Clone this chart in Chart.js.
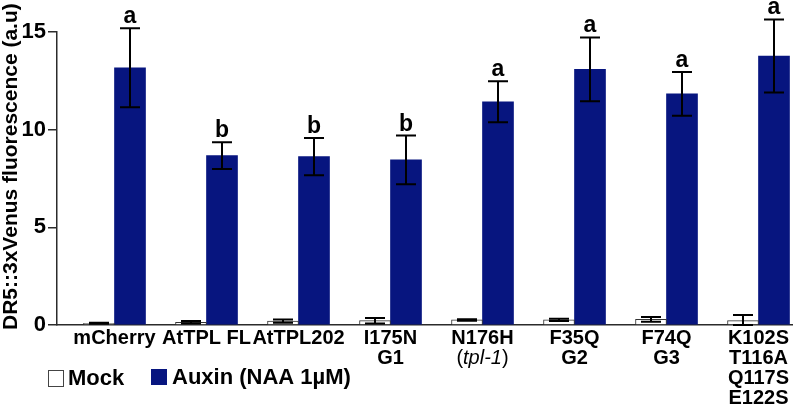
<!DOCTYPE html>
<html>
<head>
<meta charset="utf-8">
<script src="https://cdn.jsdelivr.net/npm/chart.js@4.4.0/dist/chart.umd.min.js"></script>
<style>
  html, body { margin: 0; padding: 0; background: #fff; }
  #wrap { width: 793px; height: 406px; position: relative; }
</style>
</head>
<body>
<div id="wrap"><canvas id="dr5-chart"></canvas></div>
<script>
// one entry per group, one string per label line
const groupLabels = [
    ['mCherry'],
    ['AtTPL FL'],
    ['AtTPL202'],
    ['I175N', 'G1'],
    ['N176H', '(tpl-1)'],
    ['F35Q', 'G2'],
    ['F74Q', 'G3'],
    ['K102S', 'T116A', 'Q117S', 'E122S']
];
const seriesNames = ['Mock', 'Auxin (NAA 1µM)'];
const mockValues = [0.09, 0.14, 0.2, 0.22, 0.26, 0.26, 0.29, 0.22];
const mockErrors = [0.03, 0.06, 0.08, 0.14, 0.04, 0.06, 0.12, 0.29];
const auxinValues = [13.17, 8.67, 8.62, 8.45, 11.43, 13.09, 11.83, 13.77];
const auxinErrors = [2.02, 0.68, 0.95, 1.25, 1.05, 1.63, 1.12, 1.87];
const sigLetters = ['a', 'b', 'b', 'b', 'a', 'a', 'a', 'a'];
const yTicks = [0, 5, 10, 15];
const yTitle = 'DR5::3xVenus fluorescence (a.u)';

const NAVY = '#07157f';
const AXIS = '#2b2b2b';
const FONT = '"Liberation Sans", Arial, sans-serif';

// error bars + significance letters, drawn unclipped so they can go above 15
const errorBars = {
    id: 'errorBars',
    afterDatasetsDraw(chart) {
        const { ctx } = chart;
        const y = chart.scales.y;
        const errs = [mockErrors, auxinErrors];
        ctx.save();
        ctx.strokeStyle = '#000';
        ctx.lineWidth = 2;
        chart.data.datasets.forEach((ds, d) => {
            chart.getDatasetMeta(d).data.forEach((bar, i) => {
                const v = ds.data[i].y;
                const top = y.getPixelForValue(v + errs[d][i]);
                const bot = y.getPixelForValue(Math.max(0, v - errs[d][i]));
                ctx.beginPath();
                ctx.moveTo(bar.x, top);
                ctx.lineTo(bar.x, bot);
                ctx.moveTo(bar.x - 10, top);
                ctx.lineTo(bar.x + 10, top);
                ctx.moveTo(bar.x - 10, bot);
                ctx.lineTo(bar.x + 10, bot);
                ctx.stroke();
                if (d === 1) {
                    ctx.fillStyle = '#000';
                    ctx.font = 'bold 23px ' + FONT;
                    ctx.textAlign = 'center';
                    ctx.textBaseline = 'alphabetic';
                    ctx.fillText(sigLetters[i], bar.x, top - 5);
                }
            });
        });
        ctx.restore();
    }
};

// x labels, y title and the legend
const annotations = {
    id: 'annotations',
    afterDraw(chart) {
        const { ctx, chartArea } = chart;
        const x = chart.scales.x;
        ctx.save();
        ctx.fillStyle = '#000';
        ctx.textBaseline = 'middle';

        groupLabels.forEach((lines, i) => {
            const cx = x.getPixelForValue(i);
            lines.forEach((line, k) => {
                const ly = chartArea.bottom + 13 + k * 20;
                const m = line.match(/^\((.+)\)$/);
                if (m) {
                    // gene name in italic, brackets upright
                    const reg = '20px ' + FONT, ita = 'italic 20px ' + FONT;
                    ctx.font = reg;
                    const wp = ctx.measureText('(').width;
                    const wc = ctx.measureText(')').width;
                    ctx.font = ita;
                    const wi = ctx.measureText(m[1]).width;
                    let sx = cx - (wp + wi + wc) / 2;
                    ctx.textAlign = 'left';
                    ctx.font = reg;
                    ctx.fillText('(', sx, ly);
                    ctx.font = ita;
                    ctx.fillText(m[1], sx + wp, ly);
                    ctx.font = reg;
                    ctx.fillText(')', sx + wp + wi, ly);
                } else {
                    ctx.font = 'bold 20px ' + FONT;
                    ctx.textAlign = 'center';
                    ctx.fillText(line, cx, ly);
                }
            });
        });

        // y axis title
        ctx.save();
        ctx.translate(17, 330);
        ctx.rotate(-Math.PI / 2);
        ctx.font = 'bold 21px ' + FONT;
        ctx.textAlign = 'left';
        ctx.textBaseline = 'alphabetic';
        ctx.fillText(yTitle, 0, 0);
        ctx.restore();

        // legend
        ctx.font = 'bold 22px ' + FONT;
        ctx.textAlign = 'left';
        ctx.lineWidth = 1;
        ctx.strokeStyle = '#444';
        ctx.fillStyle = '#fff';
        ctx.fillRect(48, 370, 15, 16);
        ctx.strokeRect(48.5, 370.5, 15, 16);
        ctx.fillStyle = NAVY;
        ctx.fillRect(151, 369, 16, 16);
        ctx.fillStyle = '#000';
        ctx.fillText(seriesNames[0], 68, 379);
        ctx.fillText(seriesNames[1], 172, 378);
        ctx.restore();
    }
};

new Chart(document.getElementById('dr5-chart'), {
    type: 'bar',
    data: {
        datasets: [
            {
                label: seriesNames[0],
                data: mockValues.map((v, i) => ({ x: i, y: v })),
                backgroundColor: '#fff',
                borderColor: '#333',
                borderWidth: 1,
                barThickness: 31
            },
            {
                label: seriesNames[1],
                data: auxinValues.map((v, i) => ({ x: i, y: v })),
                backgroundColor: NAVY,
                borderWidth: 0,
                barThickness: 31
            }
        ]
    },
    options: {
        responsive: true,
        maintainAspectRatio: false,
        animation: false,
        layout: { padding: { top: 32, bottom: 81, left: 0, right: 0 } },
        plugins: {
            legend: { display: false },
            tooltip: { enabled: false }
        },
        scales: {
            x: {
                type: 'linear',
                min: -0.625,
                max: 7.375,
                offset: false,
                grid: { display: false, drawTicks: false, offset: false },
                ticks: { display: false },
                border: { color: AXIS, width: 1.5 },
                afterFit: (s) => { s.height = 0; }
            },
            y: {
                min: 0,
                max: 15,
                afterBuildTicks: (s) => { s.ticks = yTicks.map(v => ({ value: v })); },
                ticks: {
                    color: '#000',
                    padding: 2,
                    font: { family: FONT, size: 22, weight: 'bold' }
                },
                grid: { drawOnChartArea: false, tickLength: 9, color: AXIS, lineWidth: 1.5 },
                border: { color: AXIS, width: 1.5 },
                afterFit: (s) => { s.width = 57; }
            }
        }
    },
    plugins: [errorBars, annotations]
});
</script>
</body>
</html>
